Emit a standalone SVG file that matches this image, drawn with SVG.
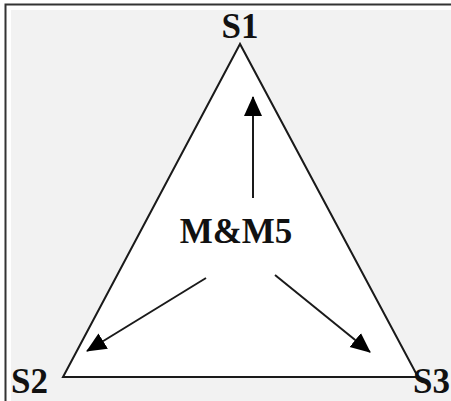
<svg xmlns="http://www.w3.org/2000/svg" width="451" height="401" viewBox="0 0 451 401">
<style>
.lbl{font-family:"Liberation Serif","Times New Roman",serif;font-weight:bold;font-size:35px;fill:#111}
.edge{stroke:#1a1a1a;stroke-width:2;fill:none}
</style>
<defs>
<marker id="ah" markerUnits="userSpaceOnUse" markerWidth="20" markerHeight="20" viewBox="0 0 20 20" refX="19" refY="10" orient="auto">
<path d="M0,1 L20,10 L0,19 Z" fill="#000"/>
</marker>
</defs>
<rect x="0" y="0" width="451" height="401" fill="#fff"/>
<rect x="11" y="10" width="440" height="391" fill="#f2f2f2"/>
<path d="M5.5,401 V4.5 H451" fill="none" stroke="#333" stroke-width="2"/>
<g id="triangle">
<polygon points="240,44 63,377 418,377" fill="#fff" stroke="#1a1a1a" stroke-width="2"/>
</g>
<g id="S1"><text class="lbl" x="240" y="38" text-anchor="middle">S1</text></g>
<g id="S2"><text class="lbl" x="11" y="393">S2</text></g>
<g id="S3"><text class="lbl" x="413" y="393">S3</text></g>
<g id="MM5"><text class="lbl" x="236" y="243" text-anchor="middle">M&amp;M5</text></g>
<g id="connectors">
<line class="edge" x1="253" y1="198" x2="253" y2="97" marker-end="url(#ah)"/>
<line class="edge" x1="206" y1="278" x2="87" y2="351" marker-end="url(#ah)"/>
<line class="edge" x1="275" y1="275" x2="370" y2="352" marker-end="url(#ah)"/>
</g>
</svg>
